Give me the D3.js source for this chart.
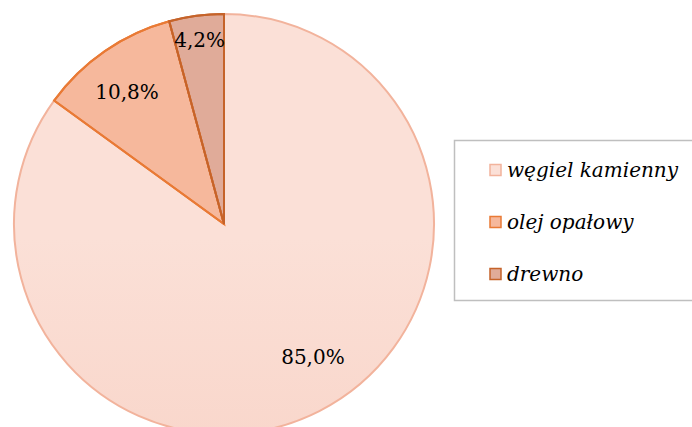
<!DOCTYPE html>
<html><head><meta charset="utf-8">
<script src="https://cdn.jsdelivr.net/npm/d3@7"></script>
<style>body{margin:0;background:#fff}svg{display:block}</style>
</head><body>
<svg id="c" width="692" height="427"></svg>
<script>
const categories = ["węgiel kamienny", "olej opałowy", "drewno"];
const values = [85.0, 10.8, 4.2];
const labels = ["85,0%", "10,8%", "4,2%"];

const fillTop = ["#fbe0d7", "#f6b89c", "#e0ab99"];
const fillBot = ["#f7cdbf", "#f4a985", "#d99b88"];
const strokes = ["#f2b39c", "#e97a35", "#c5632a"];

const svg = d3.select("#c");
const cx = 224, cy = 224, r = 210;
const defs = svg.append("defs");
fillTop.forEach((c, i) => {
  const g = defs.append("linearGradient").attr("id", "g" + i)
    .attr("gradientUnits", "userSpaceOnUse")
    .attr("x1", 0).attr("y1", cy - r).attr("x2", 0).attr("y2", cy + r);
  g.append("stop").attr("offset", 0).attr("stop-color", c);
  g.append("stop").attr("offset", 1).attr("stop-color", fillBot[i]);
});

const pie = d3.pie().sort(null).value(d => d)(values);
const arc = d3.arc().innerRadius(0).outerRadius(r);
const g = svg.append("g").attr("transform", `translate(${cx},${cy})`);
g.selectAll("path").data(pie).join("path")
  .attr("d", arc)
  .attr("fill", (d, i) => `url(#g${i})`)
  .attr("stroke", (d, i) => strokes[i])
  .attr("stroke-width", 2)
  .attr("stroke-linejoin", "round");
g.selectAll("path.o").data(pie.slice(1)).join("path")
  .attr("class", "o")
  .attr("d", arc)
  .attr("fill", "none")
  .attr("stroke", (d, i) => strokes[i + 1])
  .attr("stroke-width", 2);

const labelR = [0.76, 0.78, 0.885];
const angShift = [-0.12, -0.03, 0];
g.selectAll("text").data(pie).join("text")
  .attr("x", (d, i) => { const a = (d.startAngle + d.endAngle) / 2 + angShift[i]; return Math.sin(a) * r * labelR[i]; })
  .attr("y", (d, i) => { const a = (d.startAngle + d.endAngle) / 2 + angShift[i]; return -Math.cos(a) * r * labelR[i]; })
  .attr("text-anchor", "middle")
  .attr("dominant-baseline", "central")
  .attr("font-family", "'DejaVu Serif', 'Liberation Serif', serif")
  .attr("font-size", 20)
  .attr("fill", "#000")
  .text((d, i) => labels[i]);

const lg = svg.append("g");
lg.append("rect").attr("x", 454.5).attr("y", 140.5).attr("width", 250).attr("height", 160)
  .attr("fill", "#fff").attr("stroke", "#bfbfbf").attr("stroke-width", 1.5);
const ly = d3.scalePoint().domain(categories).range([170, 274]);
const items = lg.selectAll("g.it").data(categories).join("g").attr("class", "it")
  .attr("transform", d => `translate(0,${ly(d)})`);
items.append("rect").attr("x", 490).attr("y", -5.5).attr("width", 11).attr("height", 11)
  .attr("fill", (d, i) => fillTop[i])
  .attr("stroke", (d, i) => strokes[i]).attr("stroke-width", 1.5);
items.append("text").attr("x", 507).attr("y", 0)
  .attr("dominant-baseline", "central")
  .attr("font-family", "'DejaVu Serif', 'Liberation Serif', serif")
  .attr("font-style", "italic")
  .attr("font-size", 20)
  .attr("fill", "#000")
  .text(d => d);
</script>
</body></html>
